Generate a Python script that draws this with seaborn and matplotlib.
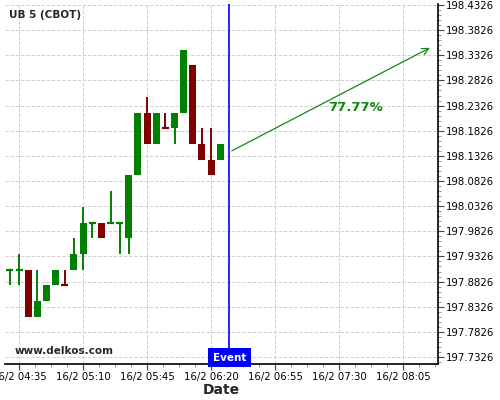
import matplotlib
matplotlib.use('Agg')
import matplotlib.pyplot as plt
import seaborn as sns
import numpy as np
from matplotlib.ticker import AutoMinorLocator, FixedLocator

# Candle data (5 minute bars, 16/2), prices in 1/32 steps
TIMES = ['04:30', '04:35', '04:40', '04:45', '04:50', '04:55', '05:00', '05:05',
         '05:10', '05:15', '05:20', '05:25', '05:30', '05:35', '05:40', '05:45',
         '05:50', '05:55', '06:00', '06:05', '06:10', '06:15', '06:20', '06:25']
OPENS = [197.90625, 197.90625, 197.90625, 197.8125, 197.84375, 197.875, 197.875, 197.90625,
         197.9375, 198.0, 198.0, 198.0, 198.0, 197.96875, 198.09375, 198.21875,
         198.15625, 198.1875, 198.1875, 198.21875, 198.3125, 198.15625, 198.125, 198.125]
HIGHS = [197.90625, 197.9375, 197.90625, 197.90625, 197.875, 197.90625, 197.90625, 197.96875,
         198.03125, 198.0, 198.0, 198.0625, 198.0, 198.09375, 198.21875, 198.25,
         198.21875, 198.21875, 198.21875, 198.34375, 198.3125, 198.1875, 198.1875, 198.15625]
LOWS = [197.875, 197.875, 197.8125, 197.8125, 197.84375, 197.875, 197.875, 197.90625,
        197.90625, 197.96875, 197.96875, 198.0, 197.9375, 197.9375, 198.09375, 198.15625,
        198.15625, 198.1875, 198.15625, 198.21875, 198.15625, 198.125, 198.09375, 198.125]
CLOSES = [197.90625, 197.90625, 197.8125, 197.84375, 197.875, 197.90625, 197.875, 197.9375,
          198.0, 198.0, 197.96875, 198.0, 198.0, 198.09375, 198.21875, 198.15625,
          198.21875, 198.1875, 198.21875, 198.34375, 198.15625, 198.125, 198.09375, 198.15625]
BULLISH = [True, True, False, True, True, True, False, True,
           True, True, False, True, True, True, True, False,
           True, False, True, True, False, False, False, True]

EVENT_TIME = '06:30'
ARROW_START = ('06:30', 198.14)
ARROW_END = ('08:21', 198.35)
ARROW_LABEL = '77.77%'
LABEL_POS = ('07:39', 198.228)

X_TICK_TIMES = ['04:35', '05:10', '05:45', '06:20', '06:55', '07:30', '08:05']
X_TICK_LABELS = ['16/2 04:35', '16/2 05:10', '16/2 05:45', '16/2 06:20',
                 '16/2 06:55', '16/2 07:30', '16/2 08:05']
Y_TICKS = [197.7326, 197.7826, 197.8326, 197.8826, 197.9326, 197.9826, 198.0326, 198.0826,
           198.1326, 198.1826, 198.2326, 198.2826, 198.3326, 198.3826, 198.4326]

UP_COLOR = '#008000'
DOWN_COLOR = '#800000'


def to_min(t):
    h, m = t.split(':')
    return int(h) * 60 + int(m)


def draw_chart():
    sns.set_style('whitegrid', {'grid.linestyle': '--', 'grid.color': '#cccccc'})
    plt.rcParams['font.family'] = ['DejaVu Sans']

    fig = plt.figure(figsize=(5, 4), dpi=100)
    ax = fig.add_axes([0.01, 0.09, 0.866, 0.90])

    x = np.array([to_min(t) for t in TIMES])
    opens = np.array(OPENS)
    closes = np.array(CLOSES)
    colors = [UP_COLOR if b else DOWN_COLOR for b in BULLISH]
    width = 3.8

    # wicks
    ax.vlines(x, LOWS, HIGHS, colors=colors, linewidth=1.4, zorder=3)
    # bodies
    bottoms = np.minimum(opens, closes)
    heights = np.abs(closes - opens)
    ax.bar(x, heights, bottom=bottoms, width=width, color=colors,
           linewidth=0, zorder=4)
    # doji bars
    doji = heights == 0
    ax.hlines(opens[doji], x[doji] - width / 2, x[doji] + width / 2,
              colors=np.array(colors)[doji], linewidth=1.6, zorder=4)

    # event line
    ev = to_min(EVENT_TIME)
    ax.axvline(ev, color='#0000ff', linewidth=1.2, zorder=5)

    # projection arrow
    ax.annotate('', xy=(to_min(ARROW_END[0]), ARROW_END[1]),
                xytext=(to_min(ARROW_START[0]), ARROW_START[1]),
                arrowprops=dict(arrowstyle='->', color='#118811', lw=0.9,
                                mutation_scale=12), zorder=6)
    ax.text(to_min(LABEL_POS[0]), LABEL_POS[1], ARROW_LABEL, color='#118811',
            fontsize=9.5, fontweight='bold', ha='center', va='center', zorder=6)

    ax.set_xlim(267.3, 504.1)
    ax.set_ylim(197.7187, 198.4346)

    ax.xaxis.set_major_locator(FixedLocator([to_min(t) for t in X_TICK_TIMES]))
    ax.set_xticklabels(X_TICK_LABELS)
    ax.xaxis.set_minor_locator(AutoMinorLocator(4))
    ax.yaxis.set_major_locator(FixedLocator(Y_TICKS))
    ax.set_yticklabels([f'{v:.4f}' for v in Y_TICKS])
    ax.yaxis.set_minor_locator(AutoMinorLocator(5))
    ax.yaxis.tick_right()

    ax.tick_params(axis='both', which='major', length=4, width=0.8, color='#444444',
                   labelsize=7.3, labelcolor='black', pad=1.5)
    ax.tick_params(axis='both', which='minor', length=2, width=0.6, color='#888888')
    ax.tick_params(axis='x', which='both', bottom=True)
    ax.tick_params(axis='y', which='both', right=True, left=False)
    ax.grid(True, which='major', linestyle='--', color='#d0d0d0', linewidth=0.7)

    for side in ['top', 'left']:
        ax.spines[side].set_visible(False)
    for side in ['right', 'bottom']:
        ax.spines[side].set_visible(True)
        ax.spines[side].set_color('black')
        ax.spines[side].set_linewidth(1.2)

    ax.set_xlabel('Date', fontsize=10, fontweight='bold', labelpad=1)

    ax.text(0.01, 0.97, 'UB 5 (CBOT)', transform=ax.transAxes, fontsize=7.5,
            fontweight='bold', ha='left', va='center')
    ax.text(0.023, 0.035, 'www.delkos.com', transform=ax.transAxes, fontsize=7.5,
            fontweight='bold', ha='left', va='center', zorder=7)
    ax.text(ev, 0.004, 'Event', transform=ax.get_xaxis_transform(), fontsize=7.5,
            fontweight='bold', color='white', ha='center', va='bottom', zorder=7,
            bbox=dict(boxstyle='square,pad=0.45', facecolor='#0000ff', edgecolor='none'))

    fig.savefig('out.png', dpi=100)


if __name__ == '__main__':
    draw_chart()
